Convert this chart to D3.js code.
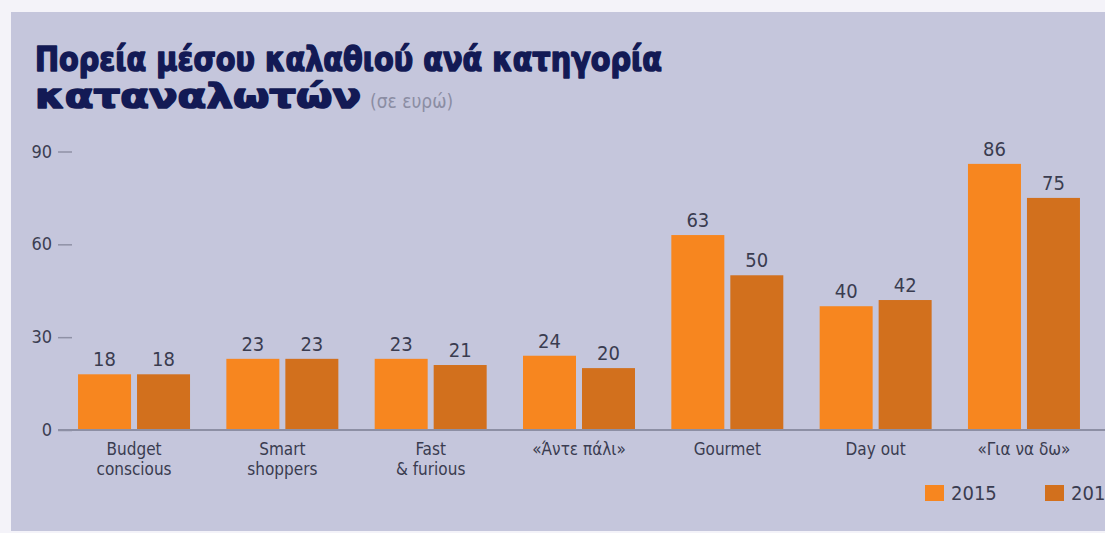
<!DOCTYPE html>
<html>
<head>
<meta charset="utf-8">
<script src="https://cdn.jsdelivr.net/npm/d3@7"></script>
<style>
  html, body { margin: 0; padding: 0; background: #f4f3f9; }
  svg { display: block; }
  .narrow { font-family: "Liberation Sans Narrow", "DejaVu Sans Condensed", "Roboto Condensed", sans-serif; font-stretch: condensed; }
</style>
</head>
<body>
<svg id="chart" width="1105" height="533"></svg>
<script>
// Average basket per shopper category (euros)
const categories = ["Budget\nconscious", "Smart\nshoppers", "Fast\n& furious", "«Άντε πάλι»", "Gourmet", "Day out", "«Για να δω»"];
const years = ["2015", "2017"];
const values2015 = [18, 23, 23, 24, 63, 40, 86];
const values2017 = [18, 23, 21, 20, 50, 42, 75];
const yTicks = [0, 30, 60, 90];

const colors = { "2015": "#f7861f", "2017": "#d2701d" };
const series = { "2015": values2015, "2017": values2017 };

const svg = d3.select("#chart");
const W = 1105, H = 533;

// panel background
svg.append("rect").attr("x", 0).attr("y", 0).attr("width", W).attr("height", H).attr("fill", "#f4f3f9");
svg.append("rect").attr("x", 11).attr("y", 12).attr("width", W - 11).attr("height", 519).attr("fill", "#c5c6dc");

// title (heavy weight, thickened with a stroke)
const title = svg.append("g").attr("fill", "#131a55").attr("stroke", "#131a55").attr("stroke-width", 1.6)
  .attr("stroke-linejoin", "round")
  .style("font-family", "'DejaVu Sans', Roboto, sans-serif").style("font-weight", 700);
title.append("text").attr("x", 35).attr("y", 71).attr("font-size", 33)
  .attr("textLength", 627).attr("lengthAdjust", "spacingAndGlyphs")
  .text("Πορεία μέσου καλαθιού ανά κατηγορία");
title.append("text").attr("x", 35).attr("y", 108).attr("font-size", 33)
  .attr("textLength", 326).attr("lengthAdjust", "spacingAndGlyphs")
  .text("καταναλωτών");
svg.append("text").attr("class", "narrow").attr("x", 370).attr("y", 108)
  .attr("font-size", 19).attr("fill", "#8b8da3").text("(σε ευρώ)");

// scales
const y = d3.scaleLinear().domain([0, 90]).range([430, 151.5]);
const x = d3.scaleBand().domain(categories).range([59.5, 1098.5]).paddingInner(0.245).paddingOuter(0.125);
const xi = d3.scaleBand().domain(years).range([0, x.bandwidth()]).paddingInner(0.1017);

// y axis: labels with short dashes, no domain line
const yAxis = d3.axisRight(y).tickValues(yTicks).tickSize(14).tickPadding(0).tickFormat(() => "");
const ya = svg.append("g").attr("transform", "translate(58,0)").call(yAxis);
ya.select(".domain").remove();
ya.selectAll(".tick line").attr("stroke", "#8f91a6").attr("stroke-width", 1.5);
svg.append("g").selectAll("text").data(yTicks).join("text")
  .attr("class", "narrow")
  .attr("x", 52).attr("y", d => y(d) + 6)
  .attr("text-anchor", "end").attr("font-size", 18).attr("fill", "#3c3e52")
  .text(d => d);

// bars
const groups = svg.append("g").selectAll("g").data(categories).join("g")
  .attr("transform", d => `translate(${x(d)},0)`);
groups.selectAll("rect").data((d, i) => years.map(yr => ({ yr, v: series[yr][i] }))).join("rect")
  .attr("x", d => xi(d.yr)).attr("width", xi.bandwidth())
  .attr("y", d => y(d.v)).attr("height", d => y(0) - y(d.v))
  .attr("fill", d => colors[d.yr]);
groups.selectAll("text.val").data((d, i) => years.map(yr => ({ yr, v: series[yr][i] }))).join("text")
  .attr("class", "val narrow")
  .attr("x", d => xi(d.yr) + xi.bandwidth() / 2).attr("y", d => y(d.v) - 8)
  .attr("text-anchor", "middle").attr("font-size", 20).attr("fill", "#3a3c50")
  .text(d => d.v);

// x axis baseline and category labels
const xAxis = d3.axisBottom(x).tickSize(0).tickFormat(() => "");
const xa = svg.append("g").attr("transform", `translate(0,${y(0)})`).call(xAxis);
xa.select(".domain").attr("d", `M58,0H${W}`).attr("stroke", "#8d8fa4").attr("stroke-width", 2);
const lab = svg.append("g").selectAll("text").data(categories).join("text")
  .attr("class", "narrow")
  .attr("x", d => x(d) + x.bandwidth() / 2).attr("y", 455)
  .attr("text-anchor", "middle").attr("font-size", 17).attr("fill", "#3a3c50");
lab.selectAll("tspan").data(d => d.split("\n")).join("tspan")
  .attr("x", function () { return d3.select(this.parentNode).attr("x"); })
  .attr("dy", (d, i) => i ? 20 : 0)
  .text(d => d);

// legend
const legend = svg.append("g").selectAll("g").data(years).join("g")
  .attr("transform", (d, i) => `translate(${925 + i * 120},485)`);
legend.append("rect").attr("width", 19).attr("height", 16).attr("fill", d => colors[d]);
legend.append("text").attr("class", "narrow").attr("x", 26).attr("y", 15)
  .attr("font-size", 20).attr("fill", "#3a3c50").text(d => d);
</script>
</body>
</html>
